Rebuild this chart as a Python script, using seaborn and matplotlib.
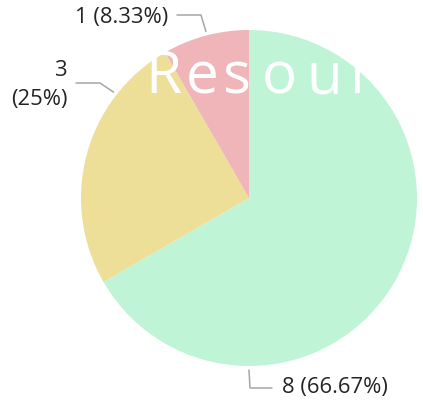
import numpy as np
import seaborn as sns
import matplotlib.pyplot as plt
from matplotlib.transforms import Bbox

# data
labels = ['8', '3', '1']
counts = [8, 3, 1]
colors = ['#C0F4D6', '#EEDF98', '#EFB5B8']
title_text = 'Resour'

sns.set_theme(style='white')
plt.rcParams['font.family'] = ['Open Sans', 'DejaVu Sans']

W, H = 423, 407
fig = plt.figure(figsize=(W / 100, H / 100), dpi=100)
fig.patch.set_facecolor('white')

# pie placement in pixels (from top-left)
cx, cy, r = 249, 198, 168
ax = fig.add_axes([(cx - r) / W, (H - cy - r) / H, 2 * r / W, 2 * r / H])
ax.pie(counts, colors=colors, startangle=90, counterclock=False,
       wedgeprops=dict(linewidth=0))
ax.set_xlim(-1, 1)
ax.set_ylim(-1, 1)
ax.axis('off')


def px(x, y):
    return x / W, 1 - y / H


total = sum(counts)
pcts = [c / total * 100 for c in counts]
txt = [f'{l} ({p:.2f}%)'.replace('.00%', '%') for l, p in zip(labels, pcts)]
txt[1] = f'{labels[1]}\n({pcts[1]:.0f}%)'

# leader lines: angle (clockwise from top) where line leaves the pie, then elbow
leader_angles = [180, 308, 345.5]
elbows = [[(250, 388), (272, 388)], [(100, 83), (76, 83)], [(201, 15), (177, 15)]]
text_pos = [(282, 388, 'left'), (68, 85, 'right'), (168, 17, 'right')]
line_col = '#A6A6A6'
for ang, elb, (tx, ty, ha), t in zip(leader_angles, elbows, text_pos, txt):
    a = np.deg2rad(ang)
    sx, sy = cx + (r + 4) * np.sin(a), cy - (r + 4) * np.cos(a)
    pts = [(sx, sy)] + elb
    xs, ys = zip(*[px(x, y) for x, y in pts])
    fig.add_artist(plt.Line2D(xs, ys, color=line_col, lw=1.1))
    fig.text(*px(tx, ty), t, ha=ha, va='center', fontsize=15.8,
             color='#252423', linespacing=1.5)

# overlay title text (stretched look: letters placed one by one), clipped right
letter_x = [145, 186, 222, 262, 306, 350]
clip = Bbox.from_extents(0, 0, 362, H)
for ch, lx in zip(title_text, letter_x):
    t = fig.text(*px(lx, 93), ch, ha='left', va='baseline',
                 fontsize=42, color='white')
    t.set_clip_box(clip)
    t.set_clip_on(True)

fig.savefig('out.png', dpi=100, facecolor='white')
